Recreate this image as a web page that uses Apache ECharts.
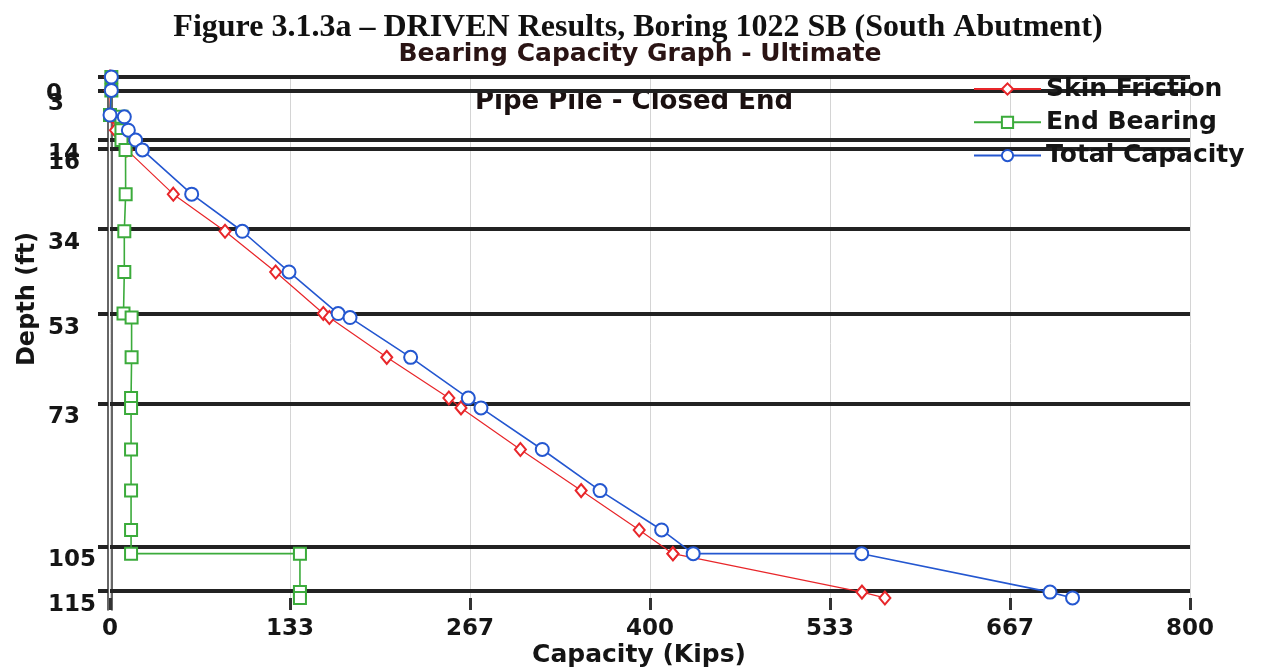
<!DOCTYPE html>
<html>
<head>
<meta charset="utf-8">
<script src="https://cdn.jsdelivr.net/npm/echarts@6/dist/echarts.min.js"></script>
<style>
  html, body { margin: 0; padding: 0; background: #ffffff; }
  #chart { width: 1265px; height: 669px; }
</style>
</head>
<body>
<div id="chart"></div>
<script>
// ---- data ----
const depths        = [0, 3, 8.5, 8.9, 11.9, 14.1, 16.3, 26.2, 34.5, 43.6, 52.9, 53.8, 62.7, 71.8, 74.0, 83.3, 92.5, 101.3, 106.6, 106.6, 115.2, 116.5];
const skinFriction  = [0, 0, 0, 2, 4, 10, 12.5, 46.9, 85.2, 122.7, 158, 162.5, 205, 251, 260, 304, 349, 392, 417, 417, 557, 574];
const endBearing    = [1, 1, 0, 8.5, 8.5, 8.5, 11.5, 11.6, 10.6, 10.6, 10, 16, 16, 15.6, 15.6, 15.6, 15.6, 15.6, 15.6, 140.7, 140.7, 140.7];
const totalCapacity = [1, 1, 0, 10.6, 13.6, 19, 24, 60.5, 98, 132.6, 169, 177.8, 222.7, 265.4, 274.8, 320.2, 363, 408.6, 432, 556.8, 696.3, 713];
const layerDepths   = [0, 3, 14, 16, 34, 53, 73, 105, 115];
const seriesNames   = ['Skin Friction', 'End Bearing', 'Total Capacity'];
const titleText     = 'Figure 3.1.3a \u2013 DRIVEN Results, Boring 1022 SB (South Abutment)';
const subtitleText  = 'Bearing Capacity Graph - Ultimate';
const noteText      = 'Pipe Pile - Closed End';
const xName         = 'Capacity (Kips)';
const yName         = 'Depth (ft)';

const SANS = '"DejaVu Sans", sans-serif';
const pairs = (vals) => vals.map((v, i) => [v, depths[i]]);

const chart = echarts.init(document.getElementById('chart'), null, { renderer: 'canvas' });

const yCommon = {
  type: 'value', min: 0, max: 119.2, inverse: true, position: 'left',
  splitLine: { show: false }
};
const yLabelStyle = {
  align: 'left', hideOverlap: false, verticalAlign: 'top',
  color: '#151515', fontFamily: SANS, fontWeight: 'bold', fontSize: 23
};

const option = {
  backgroundColor: '#ffffff',
  animation: false,
  grid: { left: 110, right: 75, top: 77, bottom: 59, outerBoundsMode: 'none', containLabel: false },
  xAxis: {
    type: 'value', min: 0, max: 800, interval: 800 / 6, position: 'bottom',
    axisLine: { show: false, onZero: false },
    axisTick: { show: true, inside: true, length: 12, lineStyle: { color: '#333', width: 3 } },
    axisLabel: {
      margin: 8, color: '#151515', fontFamily: SANS, fontWeight: 'bold', fontSize: 23,
      formatter: (v) => String(Math.round(v))
    },
    splitLine: { show: true, lineStyle: { color: '#d4d4d4', width: 1 } }
  },
  yAxis: [
    Object.assign({}, yCommon, {
      offset: 2,
      axisLine: { show: true, onZero: false, lineStyle: { color: '#333', width: 1.5 } },
      axisTick: { show: true, customValues: layerDepths, length: 10, lineStyle: { color: '#222', width: 4 } },
      axisLabel: Object.assign({ show: true, customValues: layerDepths.slice(1), margin: 60, lineHeight: 28 }, yLabelStyle)
    }),
    Object.assign({}, yCommon, {
      offset: -2,
      axisLine: { show: true, onZero: false, lineStyle: { color: '#333', width: 1.5 } },
      axisTick: { show: false },
      axisLabel: Object.assign({ show: true, customValues: layerDepths.slice(0, 1), margin: 66, lineHeight: 34 }, yLabelStyle)
    })
  ],
  legend: {
    data: seriesNames,
    orient: 'vertical', z: 6,
    left: 973, top: 76, padding: 0,
    itemWidth: 67, itemHeight: 14, itemGap: 7.3,
    textStyle: { color: '#151515', fontFamily: SANS, fontWeight: 'bold', fontSize: 25, lineHeight: 26 }
  },
  graphic: [
    { type: 'text', x: 638, y: 28, style: { text: titleText, font: 'bold 32px "Liberation Serif", "Times New Roman", serif', fill: '#111', align: 'center', verticalAlign: 'middle' } },
    { type: 'text', x: 640, y: 54, style: { text: subtitleText, font: 'bold 25px ' + SANS, fill: '#2a1414', align: 'center', verticalAlign: 'middle' } },
    { type: 'text', x: 634, y: 102, style: { text: noteText, font: 'bold 26px ' + SANS, fill: '#1a1010', align: 'center', verticalAlign: 'middle' } },
    { type: 'text', x: 639, y: 655, style: { text: xName, font: 'bold 25px ' + SANS, fill: '#151515', align: 'center', verticalAlign: 'middle' } },
    { type: 'text', x: 28, y: 299, rotation: Math.PI / 2, style: { text: yName, font: 'bold 24px ' + SANS, fill: '#151515', align: 'center', verticalAlign: 'middle' } }
  ],
  series: [
    {
      name: 'layers', type: 'line', data: [], z: 1, silent: true,
      markLine: {
        z: 1, silent: true, symbol: ['none', 'none'], label: { show: false },
        lineStyle: { color: '#222', width: 4, type: 'solid' },
        emphasis: { disabled: true },
        data: layerDepths.map((d) => ({ yAxis: d }))
      }
    },
    {
      name: seriesNames[0], type: 'line', z: 3, data: pairs(skinFriction),
      symbol: 'emptyDiamond', symbolSize: [11, 13],
      lineStyle: { color: '#e8262a', width: 1.2 },
      itemStyle: { color: '#e8262a', borderWidth: 1.2 }
    },
    {
      name: seriesNames[1], type: 'line', z: 4, data: pairs(endBearing),
      symbol: 'emptyRect', symbolSize: 12,
      lineStyle: { color: '#3bab3b', width: 1.6 },
      itemStyle: { color: '#3bab3b', borderWidth: 1.6 }
    },
    {
      name: seriesNames[2], type: 'line', z: 5, data: pairs(totalCapacity),
      symbol: 'emptyCircle', symbolSize: 13,
      lineStyle: { color: '#2457d0', width: 1.6 },
      itemStyle: { color: '#2457d0', borderWidth: 2 }
    }
  ]
};

chart.setOption(option);
</script>
</body>
</html>
